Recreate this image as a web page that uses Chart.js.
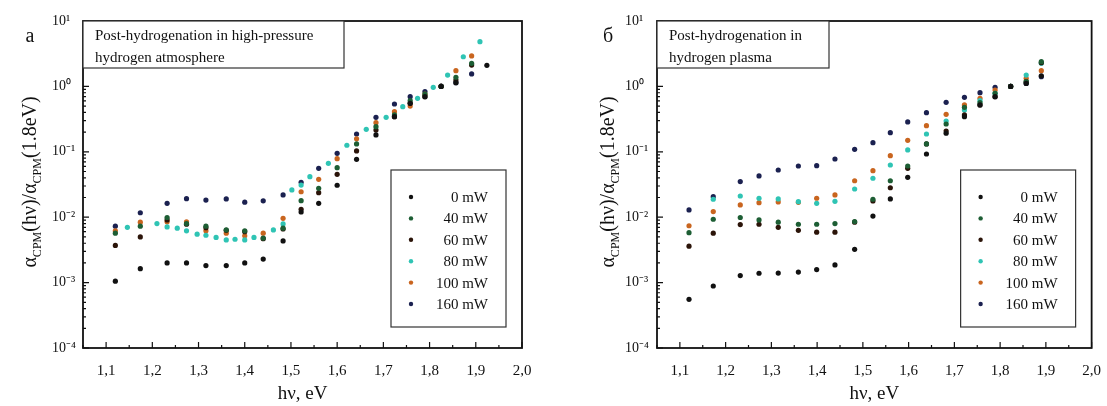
<!DOCTYPE html>
<html>
<head>
<meta charset="utf-8">
<script src="https://cdn.jsdelivr.net/npm/chart.js@4.4.0/dist/chart.umd.min.js"></script>
<style>
  body { margin: 0; background: #fff; width: 1107px; height: 406px; overflow: hidden; position: relative; }
  .panel { position: absolute; top: 0; height: 406px; }
  #left { left: 0; width: 553px; }
  #right { left: 553px; width: 554px; }
</style>
</head>
<body>
<div class="panel" id="left"><canvas id="chartA"></canvas></div>
<div class="panel" id="right"><canvas id="chartB"></canvas></div>
<script>
const serif = "'Liberation Serif', 'Times New Roman', serif";

const xTicks = [1.1, 1.2, 1.3, 1.4, 1.5, 1.6, 1.7, 1.8, 1.9, 2.0];
const yTicks = [1e-4, 1e-3, 1e-2, 1e-1, 1, 10];
const seriesNames = ["0 mW", "40 mW", "60 mW", "80 mW", "100 mW", "160 mW"];
const seriesColors = ["#111111", "#1d5e34", "#2b1409", "#2fc4b4", "#c9651f", "#1b2150"];

// panel a: high-pressure hydrogen atmosphere
const hvA = [1.12, 1.174, 1.232, 1.274, 1.316, 1.36, 1.40, 1.44, 1.483, 1.522, 1.56, 1.60, 1.642, 1.684, 1.724, 1.758, 1.79, 1.825, 1.857, 1.891, 1.924];
const a0 = [0.00105, 0.00163, 0.0020, 0.0020, 0.00182, 0.00182, 0.0020, 0.00229, 0.00433, 0.0120, 0.0163, 0.0308, 0.0767, 0.181, 0.344, 0.552, 0.697, 1.0, 1.14, null, 2.10];
const a40 = [0.0057, 0.0073, 0.0099, 0.0080, 0.0073, 0.0064, 0.0062, 0.0048, 0.0068, 0.0179, 0.0277, 0.0571, 0.132, 0.242, 0.366, 0.604, 0.76, 1.0, 1.38, 2.25, null];
const a60 = [0.0037, 0.0050, 0.0091, 0.0078, 0.0069, 0.0063, 0.0060, 0.0047, 0.0066, 0.0132, 0.0237, 0.0453, 0.103, 0.215, 0.344, 0.552, 0.697, 1.0, 1.25, 2.12, null];
const a100 = [0.0062, 0.0084, 0.0085, 0.0085, 0.0062, 0.0057, 0.0052, 0.0057, 0.0096, 0.0245, 0.038, 0.0785, 0.158, 0.279, 0.41, 0.50, 0.76, 1.0, 1.74, 2.92, null];
const a160 = [0.0073, 0.0117, 0.0163, 0.0192, 0.0183, 0.019, 0.017, 0.0178, 0.0219, 0.0341, 0.0558, 0.0948, 0.187, 0.337, 0.538, 0.697, 0.832, 1.01, 1.14, 1.55, null];
const hvA80 = [1.146, 1.21, 1.232, 1.254, 1.274, 1.297, 1.316, 1.338, 1.36, 1.379, 1.40, 1.42, 1.462, 1.483, 1.502, 1.522, 1.541, 1.581, 1.621, 1.663, 1.706, 1.742, 1.774, 1.808, 1.839, 1.873, 1.909];
const a80 = [0.0070, 0.0080, 0.0071, 0.0068, 0.0062, 0.0055, 0.0053, 0.0049, 0.0045, 0.0046, 0.0045, 0.0049, 0.0064, 0.0079, 0.0261, 0.031, 0.0417, 0.0667, 0.126, 0.221, 0.337, 0.49, 0.656, 0.968, 1.49, 2.84, 4.83];

// panel b: hydrogen plasma
const hvB = [1.12, 1.173, 1.232, 1.273, 1.315, 1.359, 1.399, 1.439, 1.482, 1.522, 1.56, 1.598, 1.639, 1.682, 1.722, 1.756, 1.789, 1.823, 1.857, 1.89];
const b0 = [0.000555, 0.000887, 0.00128, 0.00139, 0.00140, 0.00145, 0.00158, 0.00186, 0.00323, 0.0104, 0.0190, 0.0407, 0.0925, 0.192, 0.344, 0.52, 0.697, 1.0, 1.11, 1.45];
const b40 = [0.0058, 0.0093, 0.0099, 0.0091, 0.0084, 0.0078, 0.0078, 0.0080, 0.0086, 0.0188, 0.0361, 0.0607, 0.132, 0.266, 0.479, 0.564, 0.783, 1.0, 1.18, 2.39];
const b60 = [0.0036, 0.0057, 0.0077, 0.0078, 0.0070, 0.0063, 0.0059, 0.0059, 0.0084, 0.0177, 0.0282, 0.0558, 0.132, 0.208, 0.366, 0.52, 0.697, 1.0, 1.18, 2.3];
const b80 = [null, 0.0188, 0.0211, 0.0195, 0.0190, 0.0173, 0.0163, 0.0175, 0.0270, 0.0394, 0.0628, 0.107, 0.187, 0.296, 0.437, 0.604, 0.783, 1.0, 1.49, 2.25];
const b100 = [0.0074, 0.0122, 0.0154, 0.0167, 0.0171, 0.0169, 0.0195, 0.0219, 0.0361, 0.0514, 0.0871, 0.150, 0.251, 0.374, 0.520, 0.658, 0.881, 1.0, 1.33, 1.74];
const b160 = [0.0129, 0.0206, 0.035, 0.0427, 0.0527, 0.0607, 0.0614, 0.0776, 0.109, 0.138, 0.196, 0.286, 0.396, 0.571, 0.681, 0.802, 0.968, 1.0, 1.11, 1.41];

function points(xs, ys) {
  let out = [];
  for (let i = 0; i < xs.length; i++) {
    if (ys[i] != null) out.push({ x: xs[i], y: ys[i] });
  }
  return out;
}

function makeDatasets(list) {
  return list.map((d, i) => ({
    label: seriesNames[i],
    data: points(d[0], d[1]),
    backgroundColor: seriesColors[i],
    borderColor: seriesColors[i],
    borderWidth: 0,
    pointRadius: 2.6,
    showLine: false,
  }));
}

const supers = { "-": "\u207B", "0": "\u2070", "1": "\u00B9", "2": "\u00B2", "3": "\u00B3", "4": "\u2074" };
function powLabel(v) {
  const e = String(Math.round(Math.log10(v)));
  return "10" + e.split("").map((c) => supers[c]).join("");
}

function drawYTitle(ctx, cx, cy) {
  const parts = [["\u03B1", 20, 0], ["CPM", 12, 5], ["(h\u03BD)/\u03B1", 20, 0], ["CPM", 12, 5], ["(1.8eV)", 20, 0]];
  ctx.save();
  ctx.translate(cx, cy);
  ctx.rotate(-Math.PI / 2);
  let w = 0;
  parts.forEach((p) => { ctx.font = p[1] + "px " + serif; w += ctx.measureText(p[0]).width; });
  let x = -w / 2;
  ctx.fillStyle = "#111";
  ctx.textBaseline = "alphabetic";
  ctx.textAlign = "left";
  parts.forEach((p) => {
    ctx.font = p[1] + "px " + serif;
    ctx.fillText(p[0], x, 7 + p[2]);
    x += ctx.measureText(p[0]).width;
  });
  ctx.restore();
}

const decor = {
  id: "decor",
  afterDraw(chart, args, opts) {
    const ctx = chart.ctx;
    const a = chart.chartArea;
    const xs = chart.scales.x, ys = chart.scales.y;
    ctx.save();
    // inward ticks
    ctx.strokeStyle = "#111";
    ctx.lineWidth = 1.2;
    ctx.beginPath();
    xTicks.forEach((v) => {
      let px = xs.getPixelForValue(v);
      ctx.moveTo(px, a.bottom); ctx.lineTo(px, a.bottom - 6);
      let pm = xs.getPixelForValue(v - 0.05);
      ctx.moveTo(pm, a.bottom); ctx.lineTo(pm, a.bottom - 3);
    });
    yTicks.forEach((d) => {
      let py = ys.getPixelForValue(d);
      ctx.moveTo(a.left, py); ctx.lineTo(a.left + 6, py);
      if (d < 10) {
        for (let k = 2; k <= 9; k++) {
          let pk = ys.getPixelForValue(d * k);
          ctx.moveTo(a.left, pk); ctx.lineTo(a.left + 3, pk);
        }
      }
    });
    ctx.stroke();
    // frame
    ctx.lineWidth = 1.8;
    ctx.strokeRect(a.left, a.top, a.right - a.left, a.bottom - a.top);

    // note box
    ctx.lineWidth = 1.2;
    ctx.strokeStyle = "#333";
    ctx.fillStyle = "#fff";
    ctx.fillRect(a.left, a.top, opts.noteWidth, 47);
    ctx.strokeRect(a.left, a.top, opts.noteWidth, 47);
    ctx.fillStyle = "#111";
    ctx.font = "15px " + serif;
    ctx.textAlign = "left";
    ctx.textBaseline = "alphabetic";
    opts.note.forEach((line, i) => ctx.fillText(line, a.left + 12, a.top + 19 + i * 22));

    // legend box
    const lx = a.right - 131, ly = 170, lw = 115, lh = 157;
    ctx.strokeStyle = "#333";
    ctx.strokeRect(lx, ly, lw, lh);
    chart.data.datasets.forEach((ds, i) => {
      const ry = 197 + i * 21.4;
      ctx.fillStyle = ds.backgroundColor;
      ctx.beginPath();
      ctx.arc(lx + 20, ry, 2.2, 0, Math.PI * 2);
      ctx.fill();
      ctx.fillStyle = "#111";
      ctx.font = "15px " + serif;
      ctx.textAlign = "right";
      ctx.textBaseline = "middle";
      ctx.fillText(ds.label, lx + 97, ry + 1);
    });

    // panel letter and y title
    ctx.fillStyle = "#111";
    ctx.font = "20px " + serif;
    ctx.textAlign = "center";
    ctx.textBaseline = "middle";
    ctx.fillText(opts.letter, opts.letterX, 37);
    ctx.restore();
    drawYTitle(ctx, opts.titleX, 182);
  },
};

function makeChart(id, datasets, pad, yWidth, extra) {
  return new Chart(document.getElementById(id), {
    type: "scatter",
    data: { datasets: datasets },
    plugins: [decor],
    options: {
      responsive: true,
      maintainAspectRatio: false,
      animation: false,
      layout: { padding: pad },
      plugins: { legend: { display: false }, tooltip: { enabled: false }, decor: extra },
      scales: {
        x: {
          type: "linear",
          min: 1.05,
          max: 2.0,
          afterBuildTicks: (s) => { s.ticks = xTicks.map((v) => ({ value: v })); },
          afterFit: (s) => { s.height = 58; },
          grid: { display: false },
          border: { display: false },
          ticks: {
            padding: 6,
            color: "#111",
            font: { family: serif, size: 15 },
            callback: (v) => v.toFixed(1).replace(".", ","),
          },
          title: {
            display: true,
            text: "h\u03BD, eV",
            color: "#111",
            font: { family: serif, size: 19, lineHeight: 1 },
            padding: { top: 0, bottom: 2 },
          },
        },
        y: {
          type: "logarithmic",
          min: 1e-4,
          max: 10,
          afterBuildTicks: (s) => { s.ticks = yTicks.map((v) => ({ value: v })); },
          afterFit: (s) => { s.width = yWidth; },
          grid: { display: false },
          border: { display: false },
          ticks: {
            crossAlign: "far",
            color: "#111",
            font: { family: serif, size: 14 },
            callback: (v) => powLabel(v),
          },
        },
      },
    },
  });
}

makeChart(
  "chartA",
  makeDatasets([[hvA, a0], [hvA, a40], [hvA, a60], [hvA80, a80], [hvA, a100], [hvA, a160]]),
  { left: 52, right: 31, top: 21, bottom: 0 },
  31,
  { note: ["Post-hydrogenation in high-pressure", "hydrogen atmosphere"], noteWidth: 261, letter: "\u0430", letterX: 30, titleX: 29 }
);

makeChart(
  "chartB",
  makeDatasets([[hvB, b0], [hvB, b40], [hvB, b60], [hvB, b80], [hvB, b100], [hvB, b160]]),
  { left: 72, right: 13, top: 21, bottom: 0 },
  32,
  { note: ["Post-hydrogenation in", "hydrogen plasma"], noteWidth: 172, letter: "\u0431", letterX: 55, titleX: 54 }
);
</script>
</body>
</html>
